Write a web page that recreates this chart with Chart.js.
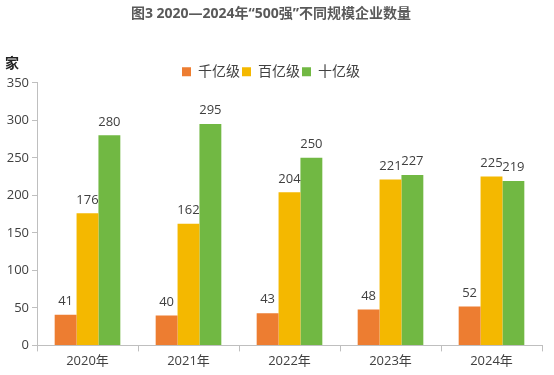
<!DOCTYPE html>
<html>
<head>
<meta charset="utf-8">
<script src="https://cdn.jsdelivr.net/npm/chart.js@4.4.1/dist/chart.umd.min.js"></script>
<style>
  html, body { margin: 0; padding: 0; background: #fff; }
  #wrap { width: 554px; height: 375px; }
</style>
</head>
<body>
<div id="wrap"><canvas id="barchart"></canvas></div>
<script>
const years = ['2020年', '2021年', '2022年', '2023年', '2024年'];
const qianYi = [41, 40, 43, 48, 52];
const baiYi = [176, 162, 204, 221, 225];
const shiYi = [280, 295, 250, 227, 219];
const yTicks = [0, 50, 100, 150, 200, 250, 300, 350];

const FONT = "'Open Sans', 'Noto Sans CJK SC', sans-serif";
const TEXT = '#404040';
const AXIS = '#bfbfbf';

// values above bars + the unit label
const barLabels = {
    id: 'barLabels',
    afterLayout(chart) {
        // push the legend a bit closer to the plot
        if (chart.legend) {
            chart.legend.top += 6;
            chart.legend.bottom += 6;
        }
    },
    afterDatasetsDraw(chart) {
        const ctx = chart.ctx;
        ctx.save();
        ctx.font = '13px ' + FONT;
        ctx.fillStyle = TEXT;
        ctx.textAlign = 'center';
        ctx.textBaseline = 'bottom';
        chart.data.datasets.forEach((ds, i) => {
            chart.getDatasetMeta(i).data.forEach((bar, j) => {
                ctx.fillText(ds.data[j], bar.x, bar.y - 7);
            });
        });
        ctx.font = 'bold 14px ' + FONT;
        ctx.fillStyle = '#222';
        ctx.textAlign = 'left';
        ctx.fillText('家', 5, 71);
        ctx.restore();
    }
};

document.addEventListener("DOMContentLoaded", function() {
    const ctx = document.getElementById('barchart');

    new Chart(ctx, {
        type: 'bar',
        data: {
            labels: years,
            datasets: [
                { label: '千亿级', backgroundColor: '#ED7D31', data: qianYi },
                { label: '百亿级', backgroundColor: '#F4B800', data: baiYi },
                { label: '十亿级', backgroundColor: '#71B843', data: shiYi }
            ]
        },
        options: {
            responsive: true,
            maintainAspectRatio: false,
            animation: false,
            categoryPercentage: 0.65,
            barPercentage: 1.0,
            layout: { padding: { left: 0, right: 12, top: 0, bottom: 4 } },
            plugins: {
                title: {
                    display: true,
                    text: '图3 2020—2024年“500强”不同规模企业数量',
                    color: '#595959',
                    font: { family: FONT, size: 14, weight: 'bold' },
                    padding: { top: 6, bottom: 34 }
                },
                legend: {
                    position: 'top',
                    labels: {
                        color: TEXT,
                        font: { family: FONT, size: 14 },
                        boxWidth: 9,
                        boxHeight: 9,
                        padding: 2
                    }
                },
                tooltip: { enabled: false }
            },
            scales: {
                x: {
                    grid: { display: true, offset: true, drawOnChartArea: false, color: AXIS, tickLength: 6 },
                    border: { color: AXIS },
                    ticks: { color: TEXT, font: { family: FONT, size: 13 }, padding: 2 }
                },
                y: {
                    min: 0,
                    max: 350,
                    afterBuildTicks(scale) { scale.ticks = yTicks.map(v => ({ value: v })); },
                    afterFit(scale) { scale.width = 37; },
                    grid: { display: true, drawOnChartArea: false, color: AXIS, tickLength: 5 },
                    border: { color: AXIS },
                    ticks: { color: TEXT, font: { family: FONT, size: 13 }, padding: 3 }
                }
            }
        },
        plugins: [barLabels]
    });
});
</script>
</body>
</html>
